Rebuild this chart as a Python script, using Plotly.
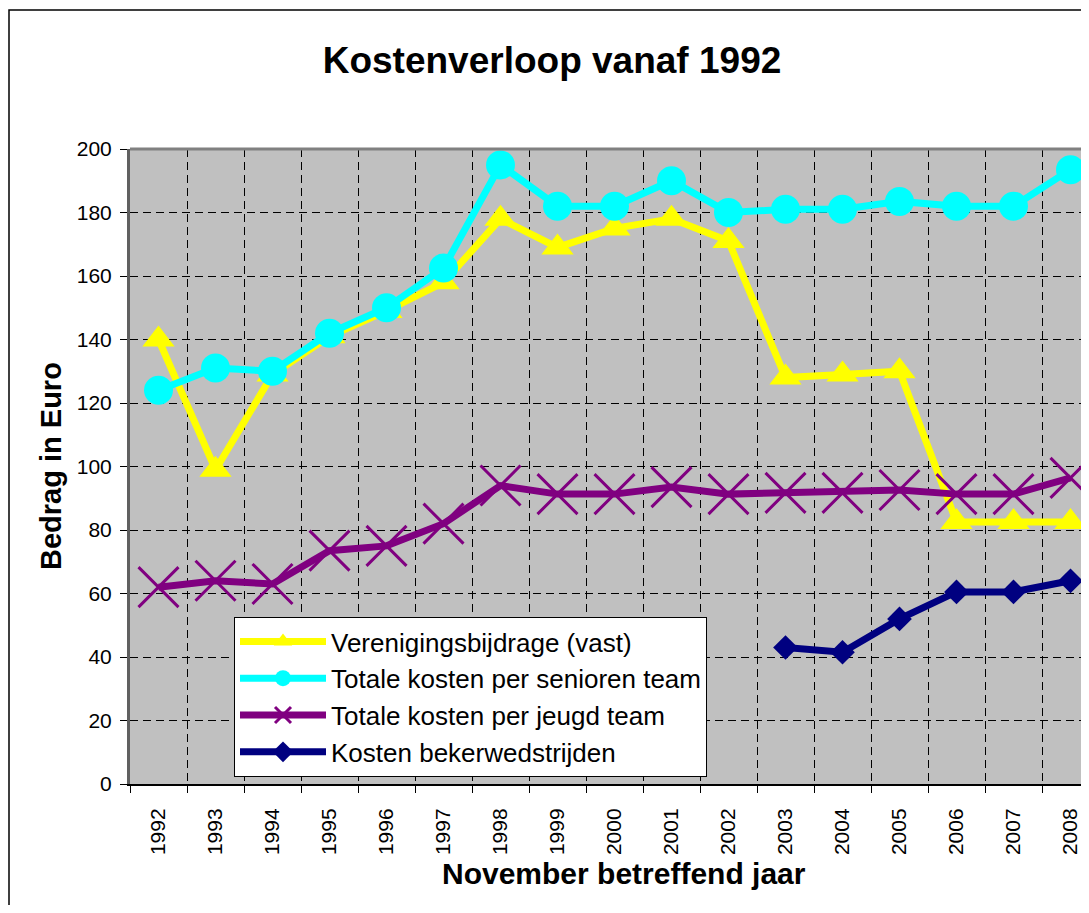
import plotly.graph_objects as go

years = ["1992", "1993", "1994", "1995", "1996", "1997", "1998", "1999", "2000",
         "2001", "2002", "2003", "2004", "2005", "2006", "2007", "2008"]
vereniging = [140, 99, 129, 141, 149, 158, 178, 169, 175, 178, 171, 128, 129, 130, 82.5, 82.5, 82.5]
senioren = [124, 131, 130, 142, 150, 162.5, 195, 182, 182, 190, 180, 181, 181, 183.5, 182, 182, 193.5]
jeugd = [62, 64, 63, 73.5, 75, 82, 94, 91.3, 91.3, 93.5, 91.3, 91.7, 91.7, 92.6, 91.3, 91.3, 96.4]
beker = [None, None, None, None, None, None, None, None, None, None, None,
         43, 41.5, 52, 60.5, 60.5, 64]

names = ["Verenigingsbijdrage (vast)", "Totale kosten per senioren team",
         "Totale kosten per jeugd team", "Kosten bekerwedstrijden"]

FONT = "Liberation Sans, Arial, sans-serif"

fig = go.Figure()
fig.add_trace(go.Scatter(
    x=years, y=vereniging, name=names[0], mode="lines+markers",
    line=dict(color="#FFFF00", width=7),
    marker=dict(symbol="triangle-up", size=28, color="#FFFF00", line=dict(width=0)),
))
fig.add_trace(go.Scatter(
    x=years, y=senioren, name=names[1], mode="lines+markers",
    line=dict(color="#00FFFF", width=7),
    marker=dict(symbol="circle", size=29, color="#00FFFF", line=dict(width=0)),
))
fig.add_trace(go.Scatter(
    x=years, y=jeugd, name=names[2], mode="lines+markers",
    line=dict(color="#800080", width=7),
    marker=dict(symbol="x-thin", size=40, color="#800080", line=dict(width=3, color="#800080")),
))
fig.add_trace(go.Scatter(
    x=years, y=beker, name=names[3], mode="lines+markers",
    line=dict(color="#000080", width=7),
    marker=dict(symbol="diamond", size=19, color="#000080", line=dict(width=0)),
))

# page has an 8px body margin: figure origin sits at page (8, 8)
OFF = 8
W, H = 1089 - OFF, 913 - 2 * OFF
L = 130 - OFF
T = 149 - OFF
PB = 784 - OFF          # plot bottom in figure px
B = H - PB
pw = W - L
ph = PB - T


def px(xp):  # page x -> paper
    return (xp - OFF - L) / pw


def py(yp):  # page y -> paper
    return (PB - (yp - OFF)) / ph


fig.update_layout(
    width=W, height=H,
    margin=dict(l=L, r=0, t=T, b=B, pad=0),
    paper_bgcolor="white",
    plot_bgcolor="#C0C0C0",
    font=dict(family=FONT, color="black"),
    title=dict(text="<b>Kostenverloop vanaf 1992</b>",
               x=(552 - OFF) / W, y=1 - (60 - OFF) / H,
               xanchor="center", yanchor="middle", xref="container", yref="container",
               font=dict(size=37, family=FONT, color="black")),
    showlegend=True,
    legend=dict(
        x=px(234), y=py(617), xanchor="left", yanchor="top",
        bgcolor="white", bordercolor="black", borderwidth=1,
        font=dict(size=26, family=FONT, color="black"),
        tracegroupgap=0, itemwidth=86,
        entrywidth=500, entrywidthmode="pixels",
    ),
    xaxis=dict(
        type="category",
        range=[-0.5, -0.5 + pw / 57.0],
        tickson="boundaries",
        ticks="outside", ticklen=7, tickcolor="black", tickwidth=1,
        tickangle=-90,
        tickfont=dict(size=21, family=FONT, color="black"),
        showgrid=True, gridcolor="black", gridwidth=1, griddash="8px,5px",
        showline=True, linecolor="black", linewidth=2,
        ticklabelstandoff=14,
        zeroline=False,
    ),
    yaxis=dict(
        range=[0, 200], dtick=20, tick0=0,
        ticks="outside", ticklen=7, tickcolor="black", tickwidth=1,
        tickfont=dict(size=21, family=FONT, color="black"),
        showgrid=True, gridcolor="black", gridwidth=1, griddash="8px,5px",
        showline=True, linecolor="#606060", linewidth=3,
        zeroline=False,
        ticklabelstandoff=4,
    ),
)

# plot-area top border
fig.add_shape(type="line", xref="paper", yref="paper", x0=0, x1=1.02, y0=1, y1=1,
              line=dict(color="#808080", width=3), layer="above")
# outer chart border (left edge kept just inside the figure)
fig.add_shape(type="rect", xref="paper", yref="paper",
              x0=px(9), x1=1.2, y0=-0.5, y1=py(10),
              line=dict(color="black", width=1.5), layer="above")

fig.add_annotation(text="<b>Bedrag in Euro</b>", xref="paper", yref="paper",
                   x=px(51), y=py(466), textangle=-90,
                   showarrow=False, xanchor="center", yanchor="middle",
                   font=dict(size=29, family=FONT, color="black"))
fig.add_annotation(text="<b>November betreffend jaar</b>", xref="paper", yref="paper",
                   x=px(624), y=py(873),
                   showarrow=False, xanchor="center", yanchor="middle",
                   font=dict(size=30, family=FONT, color="black"))

fig.write_html("out.html")
